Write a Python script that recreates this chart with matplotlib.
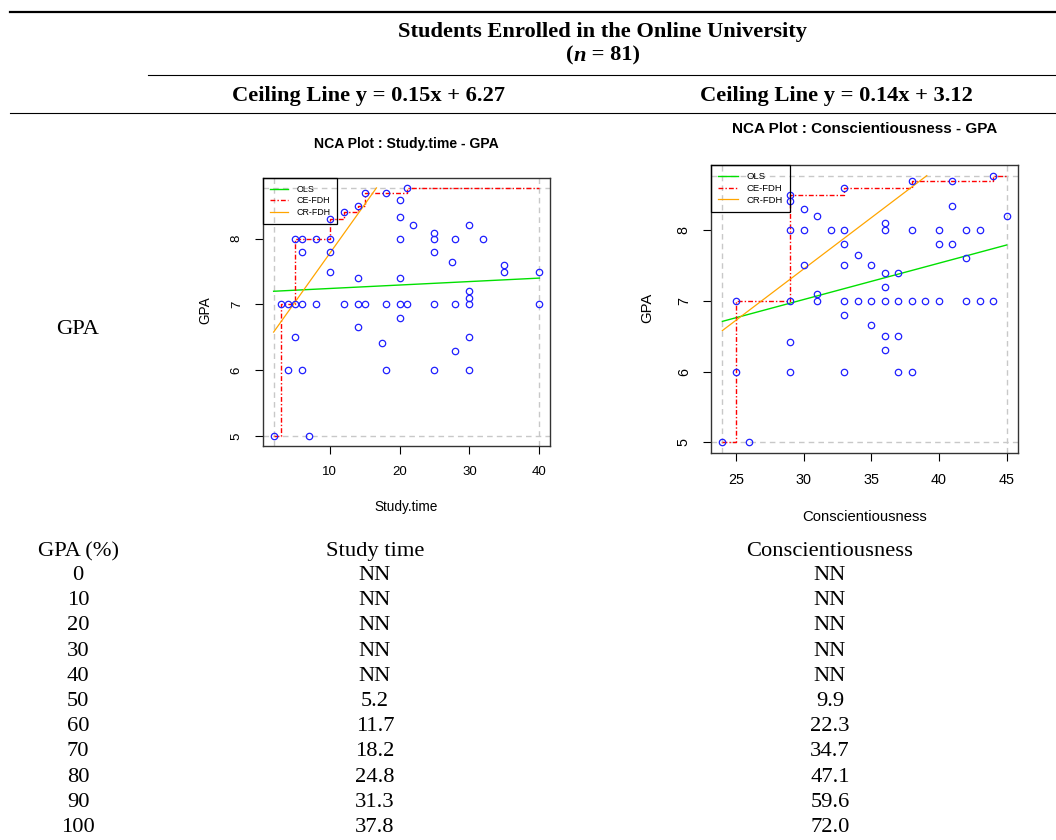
import matplotlib
matplotlib.use("Agg")
import matplotlib.pyplot as plt
from matplotlib.lines import Line2D

# -----------------------------
# --- Data
# -----------------------------
gpa_pct = ["0", "10", "20", "30", "40", "50", "60", "70", "80", "90", "100"]
study_time_vals = ["NN", "NN", "NN", "NN", "NN", "5.2", "11.7", "18.2", "24.8", "31.3", "37.8"]
consc_vals = ["NN", "NN", "NN", "NN", "NN", "9.9", "22.3", "34.7", "47.1", "59.6", "72.0"]

# study time vs GPA scatter
st_x = [2, 7, 3, 4, 5, 6, 8, 12, 14, 15, 18, 20, 21, 25, 28, 30, 40,
        4, 6, 18, 25, 30,
        5, 14, 17.5, 20, 28, 30, 30, 30,
        14, 20, 10, 10, 6,
        5, 6, 8, 10, 20, 25, 25, 25, 28, 32, 30, 22, 27.5, 35, 35, 40,
        20, 20, 10, 12, 14, 15, 18, 21]
st_y = [5, 5, 7, 7, 7, 7, 7, 7, 7, 7, 7, 7, 7, 7, 7, 7, 7,
        6, 6, 6, 6, 6,
        6.5, 6.66, 6.42, 6.8, 6.3, 6.5, 7.2, 7.1,
        7.4, 7.4, 7.5, 7.8, 7.8,
        8, 8, 8, 8, 8, 8, 8.08, 7.8, 8, 8, 8.2, 8.2, 7.64, 7.6, 7.5, 7.5,
        8.33, 8.59, 8.3, 8.4, 8.5, 8.7, 8.7, 8.77]
st_ce_x = [2, 3, 5, 10, 12, 14, 15, 21, 40]
st_ce_y = [5, 7, 8, 8.3, 8.4, 8.5, 8.7, 8.77, 8.77]
st_ols_x = [2, 40]
st_ols_y = [7.2, 7.4]
st_cr_x = [2, 16.7]
st_cr_y = [6.58, 8.77]

# conscientiousness vs GPA scatter
cs_x = [24, 26, 25, 25, 29, 29, 29, 29, 29, 29, 30, 30, 30, 31, 31, 31, 32,
        33, 33, 33, 33, 33, 33, 33, 34, 34, 35, 35, 35,
        36, 36, 36, 36, 36, 36, 36, 37, 37, 37, 37,
        38, 38, 38, 38, 39, 40, 40, 40, 41, 41, 41, 42, 42, 42, 43, 43, 44, 44, 45]
cs_y = [5, 5, 7, 6, 6, 6.42, 7, 8, 8.41, 8.5, 8.3, 8, 7.5, 8.2, 7.1, 7, 8,
        8, 7.8, 7.5, 7, 6.8, 6, 8.6, 7.65, 7, 7.5, 7, 6.66,
        8.1, 8, 7.4, 7.2, 7, 6.5, 6.3, 7.4, 7, 6.5, 6,
        8.7, 8, 7, 6, 7, 8, 7.8, 7, 8.7, 8.34, 7.8, 8, 7.61, 7, 8, 7, 8.77, 7, 8.2]
cs_ce_x = [24, 25, 29, 33, 38, 44, 45]
cs_ce_y = [5, 7, 8.5, 8.6, 8.7, 8.77, 8.77]
cs_ols_x = [24, 45]
cs_ols_y = [6.71, 7.79]
cs_cr_x = [24, 39.1]
cs_cr_y = [6.58, 8.77]

# -----------------------------
# --- Figure / helpers
# -----------------------------
W, H = 1056, 840
fig = plt.figure(figsize=(W / 100, H / 100), dpi=100)
SERIF = "Liberation Serif"
SANS = "Liberation Sans"


def px(x, y):
    return (x / W, 1 - y / H)


def hline(y, x0, x1, lw):
    fig.add_artist(Line2D([x0 / W, x1 / W], [1 - y / H] * 2, color="black", lw=lw))


def ftext(x, y, s, **kw):
    kw.setdefault("family", SERIF)
    kw.setdefault("fontsize", 16.2)
    kw.setdefault("ha", "center")
    kw.setdefault("va", "baseline")
    return fig.text(*px(x, y), s, **kw)


def nca_panel(box, xs, ys, ce_x, ce_y, ols_x, ols_y, cr_x, cr_y, xticks,
              title, xlabel, title_pos, xlabel_pos, ylabel_pos, fs, leg_fs):
    l, t, r, b = box
    ax = fig.add_axes([l / W, 1 - b / H, (r - l) / W, (b - t) / H])
    xpad = 0.04 * (max(xs) - min(xs))
    ypad = 0.04 * (max(ys) - min(ys))
    ax.set_xlim(min(xs) - xpad, max(xs) + xpad)
    ax.set_ylim(min(ys) - ypad, max(ys) + ypad)
    dash = dict(color="#c8c8c8", lw=1.0, ls=(0, (4, 3)), zorder=1)
    ax.axvline(min(xs), **dash)
    ax.axvline(max(xs), **dash)
    ax.axhline(min(ys), **dash)
    ax.axhline(max(ys), **dash)
    ax.plot(xs, ys, "o", ms=4.6, mfc="none", mec="#2020ff", mew=0.9, zorder=3)
    l_ols, = ax.plot(ols_x, ols_y, color="#00e000", lw=1.0, zorder=2)
    l_ce, = ax.step(ce_x, ce_y, where="post", color="red", lw=1.0,
                    ls=(0, (3.5, 1.5, 1, 1.5)), zorder=2)
    l_cr, = ax.plot(cr_x, cr_y, color="#ffa500", lw=0.9, zorder=2)
    leg = ax.legend([l_ols, l_ce, l_cr], ["OLS", "CE-FDH", "CR-FDH"], loc="upper left",
                    bbox_to_anchor=(0, 1), borderaxespad=0, fancybox=False,
                    facecolor="none", framealpha=1, edgecolor="black",
                    prop={"family": SANS, "size": leg_fs},
                    handlelength=2.1, handletextpad=0.9, labelspacing=0.3, borderpad=0.75)
    leg.get_frame().set_linewidth(0.9)
    leg.set_zorder(4)
    ax.set_xticks(xticks)
    ax.set_yticks([5, 6, 7, 8])
    ax.tick_params(direction="out", length=5.5, width=0.8, pad=9, labelsize=fs)
    for lab in ax.get_xticklabels() + ax.get_yticklabels():
        lab.set_family(SANS)
    for lab in ax.get_yticklabels():
        lab.set_rotation(90)
        lab.set_va("center")
    for sp in ax.spines.values():
        sp.set_color("#333333")
        sp.set_linewidth(1.0)
    fig.text(*px(*title_pos), title, family=SANS, fontsize=fs + 0.6,
             fontweight="bold", ha="center", va="center")
    fig.text(*px(*xlabel_pos), xlabel, family=SANS, fontsize=fs + 0.3,
             ha="center", va="center")
    fig.text(*px(*ylabel_pos), "GPA", family=SANS, fontsize=fs + 0.3,
             ha="center", va="center", rotation=90)
    return ax


# -----------------------------
# --- Table frame and header
# -----------------------------
hline(11.7, 10, W, 1.6)
hline(75, 148, W, 0.8)
hline(113, 10, W, 0.8)

ftext(603, 37.3, "Students Enrolled in the Online University", fontweight="bold")

# "(n = 81)" with italic n
renderer = fig.canvas.get_renderer()
parts = [("(", "normal"), ("n", "italic"), (" = 81)", "normal")]
widths = []
for s, st in parts:
    tt = fig.text(0, 0, s, family=SERIF, fontsize=16.2, fontweight="bold", style=st)
    widths.append(tt.get_window_extent(renderer).width)
    tt.remove()
x0 = 603 - sum(widths) / 2
for (s, st), w in zip(parts, widths):
    ftext(x0, 60.7, s, fontweight="bold", style=st, ha="left")
    x0 += w

ftext(369, 101, "Ceiling Line y = 0.15x + 6.27", fontweight="bold")
ftext(836, 101, "Ceiling Line y = 0.14x + 3.12", fontweight="bold")

ftext(78, 334, "GPA")

# -----------------------------
# --- NCA plots
# -----------------------------
nca_panel((263, 178, 550, 446), st_x, st_y, st_ce_x, st_ce_y, st_ols_x, st_ols_y,
          st_cr_x, st_cr_y, [10, 20, 30, 40], "NCA Plot : Study.time - GPA",
          "Study.time", (406, 144), (406, 507), (205, 310), 9.5, 6.4)
nca_panel((711, 165, 1018, 453), cs_x, cs_y, cs_ce_x, cs_ce_y, cs_ols_x, cs_ols_y,
          cs_cr_x, cs_cr_y, [25, 30, 35, 40, 45], "NCA Plot : Conscientiousness - GPA",
          "Conscientiousness", (865, 129), (865, 517), (647, 308), 10.4, 6.8)

# -----------------------------
# --- Lower table
# -----------------------------
ftext(78, 556, "GPA (%)")
ftext(375, 556, "Study time")
ftext(830, 556, "Conscientiousness")
for i, (g, s, c) in enumerate(zip(gpa_pct, study_time_vals, consc_vals)):
    yb = 580 + 25.2 * i
    ftext(78, yb, g)
    ftext(375, yb, s)
    ftext(830, yb, c)

fig.savefig("out.png", dpi=100, facecolor="white")
